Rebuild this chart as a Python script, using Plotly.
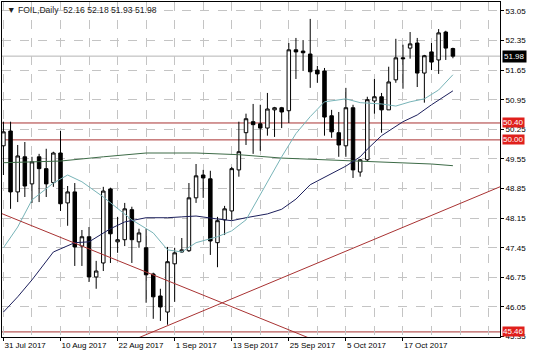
import plotly.graph_objects as go

# ---------------- data ----------------
symbol = "FOIL,Daily"
tick_idx = [0, 8, 16, 24, 32, 40, 48, 56]
tick_labels = ["31 Jul 2017", "10 Aug 2017", "22 Aug 2017", "1 Sep 2017",
               "13 Sep 2017", "25 Sep 2017", "5 Oct 2017", "17 Oct 2017"]
grid_minor_idx = [4, 12, 20, 28, 36, 44, 52, 60, 64, 68]
y_ticks = [53.05, 52.35, 51.65, 50.95, 50.25, 49.55, 48.85, 48.15, 47.45, 46.75, 46.05, 45.35]

opens = [49.86, 50.21, 48.77, 49.60, 48.96, 49.60, 49.32, 48.99, 49.69, 48.51,
         48.77, 47.49, 47.71, 46.76, 47.09, 48.84, 47.59, 47.64, 48.35, 47.59,
         47.45, 46.83, 46.31, 45.93, 47.07, 47.35, 47.38, 48.63, 49.17, 49.08,
         47.57, 48.11, 48.32, 49.29, 50.17, 50.43, 50.38, 50.28, 50.71, 50.76,
         50.69, 52.13, 52.10, 52.03, 51.65, 51.63, 50.57, 50.17, 49.86, 50.76,
         49.24, 49.53, 50.92, 51.02, 50.71, 51.42, 51.94, 52.17, 52.29, 51.58,
         52.08, 51.89, 52.55, 52.16]
highs = [50.43, 50.43, 49.88, 49.95, 49.60, 49.67, 49.79, 49.72, 50.21, 48.91,
         48.98, 47.87, 47.94, 47.14, 48.89, 48.87, 48.18, 48.51, 48.42, 47.90,
         47.90, 46.86, 46.48, 47.47, 47.45, 47.68, 48.98, 49.43, 49.29, 49.27,
         48.18, 48.44, 49.36, 50.43, 50.62, 50.85, 50.83, 51.11, 50.78, 50.78,
         52.29, 52.41, 52.36, 52.86, 51.75, 51.70, 50.71, 50.66, 51.23, 50.83,
         49.55, 51.02, 51.44, 51.11, 51.73, 52.39, 52.25, 52.55, 52.41, 52.01,
         52.29, 52.62, 52.58, 52.18]
lows = [49.17, 48.37, 48.53, 48.65, 48.51, 48.53, 48.65, 48.89, 48.32, 47.97,
        47.02, 47.02, 46.64, 46.48, 46.90, 47.09, 47.33, 47.49, 47.09, 47.45,
        46.15, 45.77, 45.72, 45.63, 46.17, 47.33, 47.35, 48.51, 48.63, 47.28,
        46.99, 47.75, 48.11, 49.13, 49.88, 49.67, 49.74, 50.10, 50.07, 50.28,
        50.40, 51.44, 51.63, 51.23, 51.35, 50.10, 50.05, 49.60, 49.60, 49.10,
        49.13, 49.50, 50.62, 50.17, 50.71, 51.35, 51.21, 51.92, 51.25, 50.88,
        51.65, 51.56, 51.89, 51.93]
closes = [50.19, 48.77, 49.62, 48.91, 49.48, 49.32, 48.96, 49.69, 48.49, 48.77,
          47.47, 47.71, 46.76, 46.90, 48.79, 47.78, 47.64, 48.37, 47.64, 47.80,
          46.81, 46.29, 46.05, 47.12, 47.33, 47.40, 48.63, 49.15, 49.10, 47.61,
          48.09, 48.37, 49.32, 49.72, 50.50, 50.36, 50.28, 50.73, 50.76, 50.66,
          52.13, 52.08, 52.06, 51.61, 51.56, 50.54, 50.19, 49.88, 50.76, 49.29,
          49.53, 50.95, 51.02, 50.71, 51.37, 51.94, 51.92, 52.27, 51.58, 51.99,
          51.84, 52.53, 52.17, 51.98]

# moving averages (bar index, value)
ma_fast_idx = [0, 2, 4, 7, 9, 11, 14, 16, 18, 21, 23, 25, 27, 30, 32, 34, 37, 39, 41, 43,
               45, 48, 50, 53, 55, 57, 59, 61, 63]
ma_fast_val = [47.45, 47.94, 48.58, 48.98, 49.17, 49.01, 48.65, 48.39, 48.11, 47.80,
               47.40, 47.35, 47.57, 47.71, 47.85, 48.11, 49.00, 49.60, 50.15, 50.55,
               50.90, 50.97, 50.88, 50.85, 50.80, 50.90, 50.97, 51.18, 51.54]
ma_mid_idx = [0, 2, 4, 7, 10, 12, 15, 17, 20, 23, 25, 27, 30, 32, 34, 37, 39, 41, 43,
              46, 48, 50, 51, 53, 56, 58, 60, 63]
ma_mid_val = [45.93, 46.29, 46.69, 47.35, 47.57, 47.59, 47.90, 48.06, 48.16, 48.16,
              48.18, 48.20, 48.13, 48.09, 48.16, 48.25, 48.36, 48.60, 48.94, 49.20,
              49.38, 49.60, 49.78, 50.10, 50.43, 50.59, 50.83, 51.16]
ma_slow_idx = [0, 8, 14, 20, 27, 33, 39, 45, 50, 55, 60, 63]
ma_slow_val = [49.46, 49.50, 49.60, 49.69, 49.69, 49.65, 49.57, 49.53, 49.48, 49.46, 49.43, 49.39]

trend_down_idx = [-1.0, 46.0]
trend_down_val = [48.31, 45.10]
trend_up_idx = [18.5, 71.0]
trend_up_val = [45.29, 48.99]

levels = [50.40, 50.00, 45.46]
bid = closes[-1]

# ---------------- figure ----------------
x = list(range(len(opens)))
FONT = "Liberation Sans"
RED_LINE = "#a83232"
fig = go.Figure()

fig.add_trace(go.Scatter(x=ma_slow_idx, y=ma_slow_val, mode="lines",
                         line=dict(color="#3d6b47", width=1), hoverinfo="skip"))
fig.add_trace(go.Scatter(x=ma_mid_idx, y=ma_mid_val, mode="lines",
                         line=dict(color="#1c1f5c", width=1), hoverinfo="skip"))
fig.add_trace(go.Scatter(x=ma_fast_idx, y=ma_fast_val, mode="lines",
                         line=dict(color="#78b4b8", width=1), hoverinfo="skip"))
fig.add_trace(go.Scatter(x=trend_down_idx, y=trend_down_val, mode="lines",
                         line=dict(color=RED_LINE, width=1), hoverinfo="skip"))
fig.add_trace(go.Scatter(x=trend_up_idx, y=trend_up_val, mode="lines",
                         line=dict(color=RED_LINE, width=1), hoverinfo="skip"))

fig.add_trace(go.Candlestick(
    x=x, open=opens, high=highs, low=lows, close=closes,
    increasing=dict(line=dict(color="black", width=1), fillcolor="white"),
    decreasing=dict(line=dict(color="black", width=1), fillcolor="black"),
    whiskerwidth=0, hoverinfo="skip"))

shapes = []
for lv in levels:
    shapes.append(dict(type="line", xref="paper", x0=0, x1=1, yref="y", y0=lv, y1=lv,
                       line=dict(color=RED_LINE, width=1), layer="below"))
shapes.append(dict(type="line", xref="paper", x0=0, x1=1, yref="y", y0=bid, y1=bid,
                   line=dict(color="#b4b4b4", width=1), layer="below"))

annotations = [dict(
    xref="paper", yref="paper", x=0, y=1, xanchor="left", yanchor="top",
    xshift=3, yshift=-1, showarrow=False,
    text=f"▼ {symbol}  {opens[-1]:.2f} {highs[-1]:.2f} {lows[-1]:.2f} {closes[-1]:.2f}",
    font=dict(family=FONT, size=8.6, color="#222222"))]
for lv in levels:
    annotations.append(dict(xref="paper", yref="y", x=1, y=lv, xanchor="left", yanchor="middle",
                            xshift=2, showarrow=False, text=f"{lv:.2f}",
                            bgcolor="#e0201c", borderpad=0,
                            font=dict(family=FONT, size=8, color="white")))
annotations.append(dict(xref="paper", yref="y", x=1, y=bid, xanchor="left", yanchor="middle",
                        xshift=2, showarrow=False, text=f"{bid:.2f}",
                        bgcolor="black", borderpad=1,
                        font=dict(family=FONT, size=8, color="white")))

fig.update_layout(
    width=536, height=357,
    margin=dict(l=2, r=36, t=2, b=20),
    paper_bgcolor="white", plot_bgcolor="white",
    showlegend=False,
    shapes=shapes, annotations=annotations,
    font=dict(family=FONT, size=8, color="black"),
)
fig.update_xaxes(
    range=[-0.2, 69.6], rangeslider=dict(visible=False),
    tickmode="array", tickvals=tick_idx, ticktext=tick_labels,
    ticklabelposition="outside right",
    ticks="outside", ticklen=3, tickcolor="black",
    showgrid=True, gridcolor="#c4c4c4", griddash="dash", gridwidth=1,
    minor=dict(tickmode="array", tickvals=grid_minor_idx, showgrid=True,
               gridcolor="#c4c4c4", griddash="dash", ticks=""),
    showline=True, linecolor="black", linewidth=1, mirror=True, zeroline=False,
    tickfont=dict(family=FONT, size=8, color="black"),
)
fig.update_yaxes(
    range=[45.34, 53.26], side="right",
    tickmode="array", tickvals=y_ticks, ticktext=[f"{v:.2f}" for v in y_ticks],
    ticks="outside", ticklen=3, tickcolor="black",
    showgrid=True, gridcolor="#c4c4c4", griddash="dash", gridwidth=1,
    showline=True, linecolor="black", linewidth=1, mirror=True, zeroline=False,
    tickfont=dict(family=FONT, size=8, color="black"),
)

fig.write_html("out.html")
